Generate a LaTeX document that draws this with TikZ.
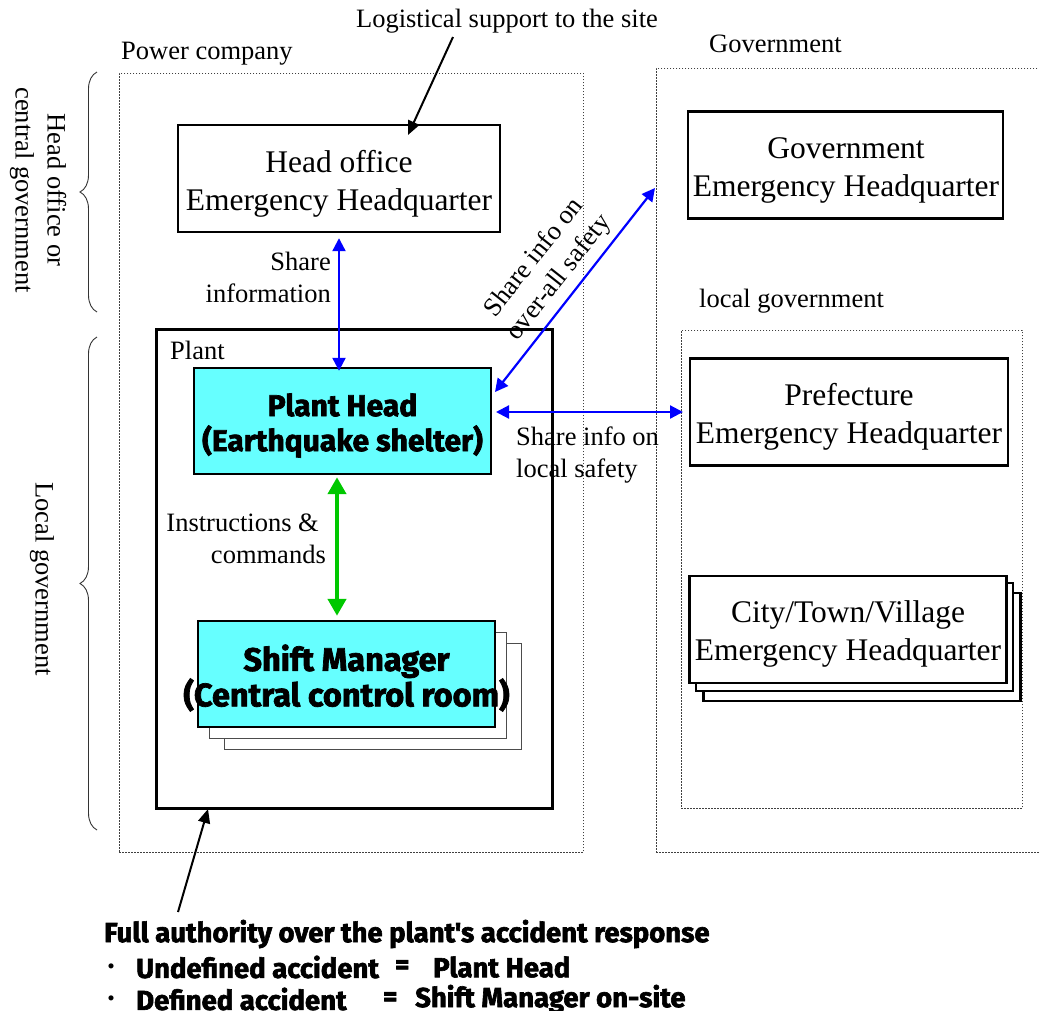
\documentclass[tikz,border=0pt]{standalone}
\usepackage{fontspec}
\setmainfont{Liberation Serif}
\newfontfamily\heavy{Fira Sans}[BoldFeatures={FakeBold=2.2}]
\newfontfamily\cjk{Noto Sans CJK JP}
\usetikzlibrary{arrows.meta,decorations.pathreplacing}
\definecolor{cyanfill}{RGB}{102,255,255}
\definecolor{arrblue}{RGB}{0,0,255}
\definecolor{arrgreen}{RGB}{0,200,0}
\begin{document}
\begin{tikzpicture}[x=1pt,y=-1pt,
  dotbox/.style={draw=black!75, line width=0.8pt, dash pattern=on 1.6pt off 1.4pt, inner sep=0pt, anchor=north west},
  hqbox/.style={draw, line width=2.4pt, minimum width=#1, minimum height=107pt, inner sep=0pt},
  hqtext/.style={align=center, inner sep=0pt, font=\fontsize{31.5}{38}\selectfont},
  cyanbox/.style={draw, fill=cyanfill, line width=2.4pt, minimum width=297pt, minimum height=106pt, inner sep=0pt},
  shadowbox/.style={draw=black!70, fill=white, line width=1pt, minimum width=297pt, minimum height=106pt, inner sep=0pt},
  cityshadow/.style={draw, fill=white, line width=2.4pt, minimum width=317pt, minimum height=108pt, inner sep=0pt},
  lbl/.style={inner sep=0pt, font=\fontsize{26.5}{32}\selectfont},
  heavytxt/.style={inner sep=0pt, font=\heavy\bfseries\fontsize{#1}{35.5}\selectfont},
  heavytxt/.default=27.5,
  bullet/.style={inner sep=0pt, anchor=west, font=\cjk\fontsize{24}{24}\selectfont},
  barrow/.style={draw=arrblue, line width=2.2pt, {Triangle[length=13pt,width=13pt]}-{Triangle[length=13pt,width=13pt]}},
  garrow/.style={draw=arrgreen, line width=4.5pt, {Triangle[length=17pt,width=18pt]}-{Triangle[length=17pt,width=18pt]}},
  karrow/.style={draw=black, line width=2pt, -{Triangle[length=14pt,width=12pt]}},
  bracestyle/.style={draw=black!80, line width=0.9pt, decorate, decoration={brace, amplitude=17pt}}
]
\useasboundingbox (0,0) rectangle (1039,1010);

% dotted containers
\node[dotbox, minimum width=464pt, minimum height=779pt] (powerbox) at (119,73) {};
\node[dotbox, minimum width=400pt, minimum height=784pt] (govbox) at (656,68) {};
\node[dotbox, minimum width=341pt, minimum height=478pt] (localbox) at (681,330) {};

% plant frame
\node[draw, line width=3.4pt, minimum width=396pt, minimum height=479pt, inner sep=0pt, anchor=north west] (plantbox) at (155,328) {};

% headquarters
\node[hqbox=322pt] (headoffice) at (339,178.5) {};
\node[hqtext] (headofficetxt) at (339,183.5) {Head office\\Emergency Headquarter};
\node[hqbox=315pt] (govhq) at (845.5,165) {};
\node[hqtext] (govhqtxt) at (846,170.5) {Government\\Emergency Headquarter};
\node[hqbox=318pt] (prefhq) at (849,412) {};
\node[hqtext] (prefhqtxt) at (849,417) {Prefecture\\Emergency Headquarter};
\node[cityshadow] (city3) at (862,647) {};
\node[cityshadow] (city2) at (854.5,637) {};
\node[hqbox=317pt, fill=white] (city) at (848,629.5) {};
\node[hqtext] (citytxt) at (848,634) {City/Town/Village\\Emergency Headquarter};

% plant head and shift manager
\node[cyanbox] (planthead) at (342.5,421) {};
\node[heavytxt=30, align=center, font=\heavy\bfseries\fontsize{30}{35}\selectfont] (plantheadtxt) at (342.5,425.5) {Plant Head\\(Earthquake shelter)};
\node[shadowbox] (shift3) at (373,696) {};
\node[shadowbox] (shift2) at (357.5,685) {};
\node[cyanbox] (shift) at (346.5,674) {};
\node[heavytxt=32.5, align=center] (shifttxt) at (346.5,678) {Shift Manager\\(Central control room)};

% braces
\draw[bracestyle] (97,312) -- (97,72) coordinate[pos=0.5] (braceA);
\draw[bracestyle] (97,830) -- (97,337) coordinate[pos=0.5] (braceB);

% labels
\node[lbl] (logi) at (507,21) {Logistical support to the site};
\node[lbl, anchor=west] (powerlbl) at (121,54) {Power company};
\node[lbl, anchor=west] (govlbl) at (709,44) {Government};
\node[lbl, anchor=west] (locallbl) at (699,301) {local government};
\node[lbl, anchor=west] (plantlbl) at (170,350) {Plant};
\node[lbl, align=right, anchor=east] (sharelbl) at (331,277) {Share\\information};
\node[lbl, align=right, anchor=east] (instlbl) at (326,539) {Instructions \&\hspace*{7pt}\\commands};
\node[lbl, align=left, anchor=west] (locsafe) at (516,455) {Share info on\\local safety};
\node[lbl, align=center, rotate=51.7] (overall) at (547,268) {Share info on\\over-all safety};
\node[lbl, align=center, rotate=-90] (headlbl) at (38,190) {Head office or\\central government};
\node[lbl, rotate=-90] (locgovlbl) at (42,579) {Local government};

% bottom text
\node[heavytxt, anchor=west] (full) at (104,934) {Full authority over the plant's accident response};
\node[bullet] (bul1) at (99,970) {・};
\node[heavytxt, anchor=west] (undef) at (136,967) {Undefined accident};
\node[heavytxt, anchor=west] (eq1) at (395,967) {=};
\node[heavytxt, anchor=west] (ph) at (433,967) {Plant Head};
\node[bullet] (bul2) at (99,1002) {・};
\node[heavytxt, anchor=west] (def) at (136,999) {Defined accident};
\node[heavytxt, anchor=west] (eq2) at (383,999) {=};
\node[heavytxt, anchor=west] (sm) at (415,999) {Shift Manager on-site};

% connector end points
\coordinate (logistart) at (453,37);
\coordinate (logiend) at (408,135);
\coordinate (diagA) at (495,392);
\coordinate (diagB) at (655,188);
\coordinate (horA) at (496,412);
\coordinate (horB) at (683,412);
\coordinate (fullstart) at (178,912);
\coordinate (fullend) at (208,809);

% connectors
\draw[karrow] (logistart) -- (logiend);
\draw[barrow] ([yshift=-5pt]headoffice.south -| 339,0) -- ([yshift=-4pt]planthead.north -| 339,0);
\draw[barrow] (diagA) -- (diagB);
\draw[barrow] (horA) -- (horB);
\draw[garrow] ([yshift=-2pt]planthead.south -| 337,0) -- ([yshift=4pt]shift.north -| 337,0);
\draw[karrow] (fullstart) -- (fullend);
\end{tikzpicture}
\end{document}
